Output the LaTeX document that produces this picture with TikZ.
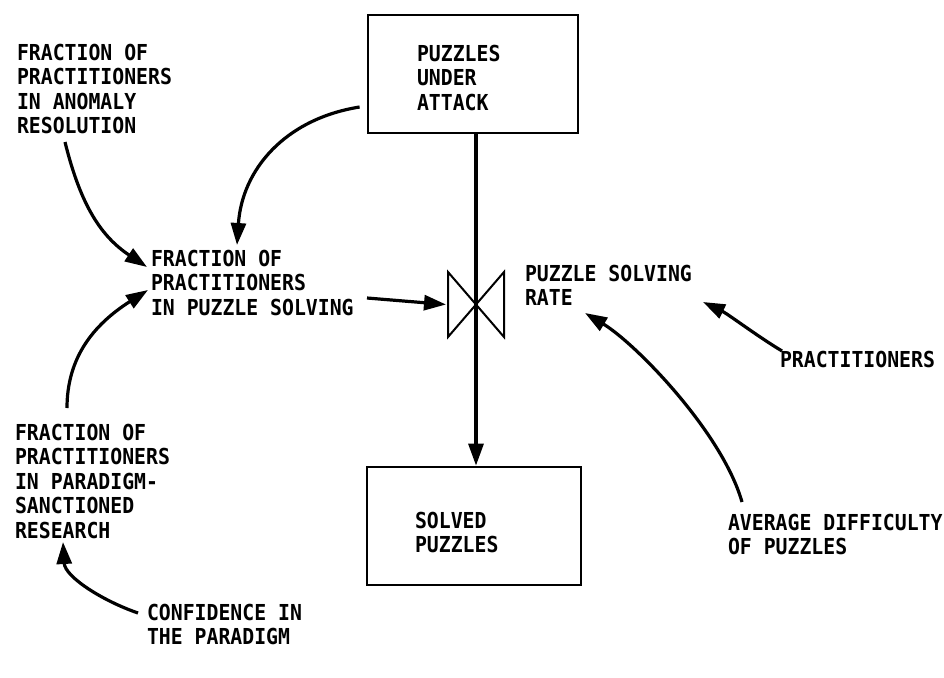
\documentclass[tikz,border=0pt]{standalone}
\usepackage{fontspec}
\newfontfamily\plotfont[FakeStretch=0.9]{DejaVu Sans Mono Bold}
\usetikzlibrary{arrows.meta}
\begin{document}
\begin{tikzpicture}[x=1pt,y=-1pt,
  lbl/.style={anchor=north west, inner sep=0pt, outer sep=0pt, align=left,
    font=\plotfont\fontsize{22}{24.5}\selectfont},
  stock/.style={draw, line width=2.8pt, minimum width=#1, minimum height=118pt, inner sep=0pt},
  conn/.style={line width=3.2pt, -{Triangle[length=22pt,width=15pt]}},
  valve/.style={line width=2pt, line join=miter}]
\useasboundingbox (0,0) rectangle (944,677);

% stocks
\node[stock=210pt] (T) at (473,74) {};
\node[lbl] (Tt) at (417,45) {PUZZLES\\UNDER\\ATTACK};
\node[stock=214pt] (S) at (474,526) {};
\node[lbl] (St) at (415,512) {SOLVED\\PUZZLES};
\coordinate (V) at (476,304.5);

% auxiliaries
\node[lbl] (A) at (17,44) {FRACTION OF\\PRACTITIONERS\\IN ANOMALY\\RESOLUTION};
\node[lbl] (B) at (151,250) {FRACTION OF\\PRACTITIONERS\\IN PUZZLE SOLVING};
\node[lbl] (C) at (15,424) {FRACTION OF\\PRACTITIONERS\\IN PARADIGM-\\SANCTIONED\\RESEARCH};
\node[lbl] (D) at (147,604) {CONFIDENCE IN\\THE PARADIGM};
\node[lbl] (F) at (525,265) {PUZZLE SOLVING\\RATE};
\node[lbl] (G) at (780,351) {PRACTITIONERS};
\node[lbl] (H) at (728,514) {AVERAGE DIFFICULTY\\OF PUZZLES};

% valve
\draw[valve] ([shift={(-28,-32.5)}]V) -- ([shift={(-28,32.5)}]V) -- (V) -- cycle;
\draw[valve] ([shift={(28,-32.5)}]V) -- ([shift={(28,32.5)}]V) -- (V) -- cycle;

% flow
\draw[conn] (T.south -| V) -- (S.north -| V);

% connectors
\draw[conn] ([shift={(48,98)}]A.north west) .. controls +(16,65) and +(-45,-30) .. ([shift={(-4,17)}]B.north west);
\draw[conn] ([shift={(-7,33)}]T.west) .. controls +(-75,12) and +(5,-75) .. ([shift={(86,-5)}]B.north west);
\draw[conn] ([shift={(52,-16)}]C.north west) .. controls +(0,-50) and +(-55,35) .. ([shift={(-3,40)}]B.north west);
\draw[conn] ([shift={(216,48)}]B.north west) -- ([xshift=-30pt]V);
\draw[conn] ([shift={(2,0)}]G.north west) .. controls +(-25,-15) and +(25,12) .. ([shift={(178,37)}]F.north west);
\draw[conn] ([shift={(14,-12)}]H.north west) .. controls +(-20,-70) and +(50,30) .. ([shift={(60,48)}]F.north west);
\draw[conn] ([shift={(-9,9)}]D.north west) .. controls +(-35,-12) and +(2,35) .. ([shift={(48,118)}]C.north west);
\end{tikzpicture}
\end{document}
